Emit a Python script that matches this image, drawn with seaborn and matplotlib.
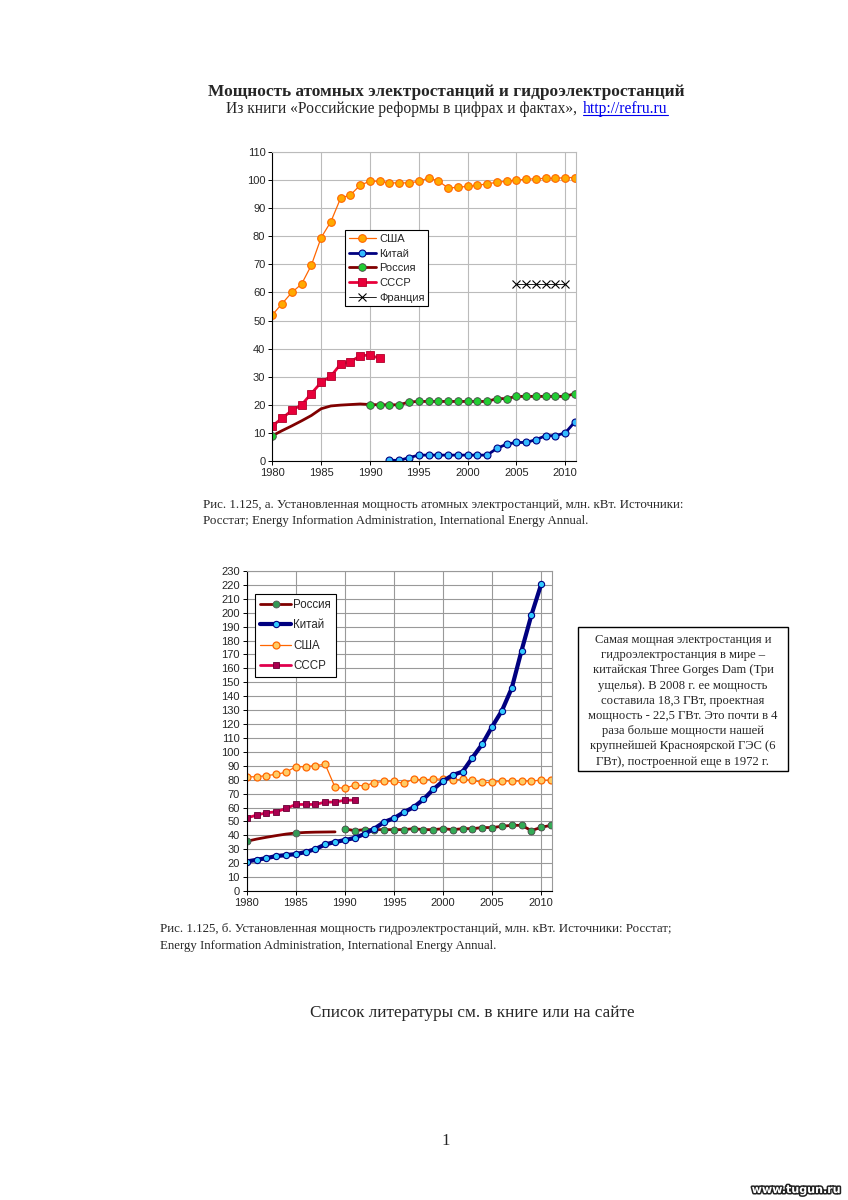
import matplotlib
matplotlib.use("Agg")
import matplotlib.pyplot as plt
import matplotlib.patheffects as pe
from matplotlib.patches import Rectangle
from matplotlib.lines import Line2D
import seaborn as sns

# ---- data: nuclear (top chart), GW
years = list(range(1980, 2012))
usa_nuc = [52, 56, 60, 63, 69.7, 79.5, 85.2, 93.6, 94.7, 98.2,
           99.6, 99.6, 99.0, 99.0, 99.0, 99.5, 100.8, 99.7, 97.2, 97.4,
           97.8, 98.1, 98.7, 99.2, 99.6, 100.0, 100.3, 100.5, 100.6, 100.6,
           100.9, 100.9]
ussr_years = list(range(1980, 1992))
ussr_nuc = [12.5, 15.2, 18.0, 20.0, 24.0, 28.0, 30.2, 34.5, 35.3, 37.5, 37.7, 36.5]
russia_nuc = [9.0, 10.8, 12.5, 14.3, 16.2, 18.6, 19.6, 19.9, 20.1, 20.3,
              20.1, 20.0, 20.0, 20.0, 21.0, 21.2, 21.2, 21.2, 21.2, 21.2,
              21.2, 21.2, 21.2, 22.2, 22.2, 23.0, 23.0, 23.0, 23.0, 23.0,
              23.0, 24.0]
russia_nuc_marked = [0] + list(range(10, 32))
china_nuc_years = list(range(1992, 2012))
china_nuc = [0.3, 0.2, 1.2, 2.1, 2.1, 2.1, 2.1, 2.1, 2.1, 2.1,
             2.1, 4.5, 6.0, 6.6, 6.6, 7.6, 9.0, 9.0, 10.0, 14.0]
france_years = [2005, 2006, 2007, 2008, 2009, 2010]
france_nuc = [63, 63, 63, 63, 63, 63]

# ---- data: hydro (bottom chart), GW
usa_hyd = [82.2, 82.0, 83.0, 83.8, 85.4, 89.3, 89.3, 90.2, 91.0, 74.5,
           73.8, 76.2, 75.5, 77.9, 78.8, 79.0, 77.3, 80.4, 79.9, 80.4,
           80.4, 79.7, 80.4, 79.5, 78.0, 78.0, 79.0, 79.0, 79.0, 79.0,
           79.7, 79.7]
ussr_hyd = [52.5, 54.5, 56.2, 56.9, 59.3, 62.2, 62.2, 62.2, 63.9, 63.9, 65.3, 65.3]
russia_early_years = list(range(1980, 1990))
russia_hyd_early = [35.7, 37.3, 38.6, 39.8, 40.9, 41.7, 42.1, 42.3, 42.4, 42.5]
russia_early_marked = [0, 5]
russia_years = list(range(1990, 2012))
russia_hyd = [44.6, 43.4, 44.1, 44.1, 44.1, 44.1, 44.1, 44.8, 44.1, 44.1,
              44.8, 44.1, 44.8, 44.8, 45.6, 45.6, 46.5, 47.2, 47.2, 43.4,
              45.8, 47.2]
china_hyd_years = list(range(1980, 2011))
china_hyd = [21.2, 22.4, 23.6, 25.1, 25.8, 26.5, 28.0, 30.1, 33.5, 35.2,
             36.6, 38.1, 41.0, 44.8, 49.6, 52.3, 56.6, 60.2, 65.8, 73.0,
             79.0, 83.4, 85.8, 95.9, 105.6, 118.1, 129.6, 145.8, 172.8, 198.3,
             220.5]

box_lines = ["Самая мощная электростанция и",
             "гидроэлектростанция в мире –",
             "китайская Three Gorges Dam (Три",
             "ущелья). В 2008 г. ее мощность",
             "составила 18,3 ГВт, проектная",
             "мощность - 22,5 ГВт. Это почти в 4",
             "раза больше мощности нашей",
             "крупнейшей Красноярской ГЭС (6",
             "ГВт), построенной еще в 1972 г."]

sns.set_theme(style="white")
plt.rcParams["font.family"] = ["Liberation Sans", "DejaVu Sans"]

W, H = 848, 1200
fig = plt.figure(figsize=(W / 100, H / 100), dpi=100)
fig.patch.set_facecolor("white")


def axes_px(l, t, r, b):
    return fig.add_axes([l / W, 1 - b / H, (r - l) / W, (b - t) / H])


def style_axes(ax, ymax, ystep, gridc, fs):
    ax.set_xlim(1980, 2011.1)
    ax.set_ylim(0, ymax)
    ax.set_xticks(range(1980, 2011, 5))
    ax.set_yticks(range(0, ymax + 1, ystep))
    ax.grid(True, color=gridc, linewidth=0.8)
    ax.set_axisbelow(True)
    for s in ["top", "right"]:
        ax.spines[s].set_color(gridc)
        ax.spines[s].set_linewidth(0.8)
    for s in ["left", "bottom"]:
        ax.spines[s].set_color("black")
        ax.spines[s].set_linewidth(0.8)
    ax.tick_params(axis="both", direction="out", length=3, width=0.7,
                   color="black", labelsize=fs, pad=2, left=True, bottom=True)
    ax.set_xlabel("")
    ax.set_ylabel("")


# ---------------- top chart: nuclear
ax1 = axes_px(272.3, 152, 576, 461)
sns.lineplot(x=years, y=usa_nuc, ax=ax1, color="#FF6600", linewidth=0.9,
             marker="o", markersize=5.5, markerfacecolor="#FFAA00",
             markeredgecolor="#FF6600", markeredgewidth=0.8, label="США")
sns.lineplot(x=china_nuc_years, y=china_nuc, ax=ax1, color="#000080", linewidth=2,
             marker="o", markersize=5, markerfacecolor="#33BBFF",
             markeredgecolor="#000080", markeredgewidth=0.8, label="Китай")
sns.lineplot(x=years, y=russia_nuc, ax=ax1, color="#800000", linewidth=2,
             marker="o", markersize=5.5, markerfacecolor="#22CC33",
             markeredgecolor="#444444", markeredgewidth=0.6,
             markevery=russia_nuc_marked, label="Россия")
sns.lineplot(x=ussr_years, y=ussr_nuc, ax=ax1, color="#E8003A", linewidth=2,
             marker="s", markersize=5.5, markerfacecolor="#E8003A",
             markeredgecolor="#B0002A", markeredgewidth=0.6, label="СССР")
sns.lineplot(x=france_years, y=france_nuc, ax=ax1, color="black", linewidth=0.6,
             marker="x", markersize=5.5, markeredgecolor="black",
             markeredgewidth=0.8, label="Франция")
style_axes(ax1, 110, 10, "#BBBBBB", 8)
leg1 = ax1.legend(loc="upper left", bbox_to_anchor=(345 / W, 1 - 230 / H),
                  bbox_transform=fig.transFigure, fontsize=8, frameon=True,
                  fancybox=False, edgecolor="black", framealpha=1,
                  borderpad=0.35, labelspacing=0.42, handlelength=2.4,
                  handletextpad=0.3, borderaxespad=0)
leg1.get_frame().set_linewidth(0.8)

# ---------------- bottom chart: hydro
ax2 = axes_px(246.7, 571, 552, 891)
sns.lineplot(x=russia_early_years, y=russia_hyd_early, ax=ax2, color="#800000",
             linewidth=2, marker="o", markersize=5, markerfacecolor="#339955",
             markeredgecolor="#555555", markeredgewidth=0.6,
             markevery=russia_early_marked, label="Россия")
sns.lineplot(x=russia_years, y=russia_hyd, ax=ax2, color="#800000",
             linewidth=2, marker="o", markersize=5, markerfacecolor="#33AA55",
             markeredgecolor="#444444", markeredgewidth=0.6)
sns.lineplot(x=years, y=usa_hyd, ax=ax2, color="#FF6600", linewidth=0.9,
             marker="o", markersize=5, markerfacecolor="#FFCC66",
             markeredgecolor="#FF6600", markeredgewidth=0.9, label="США")
sns.lineplot(x=ussr_years, y=ussr_hyd, ax=ax2, color="#E0004D", linewidth=2,
             marker="s", markersize=5, markerfacecolor="#AA0050",
             markeredgecolor="#660033", markeredgewidth=0.6, label="СССР")
sns.lineplot(x=china_hyd_years, y=china_hyd, ax=ax2, color="#000080", linewidth=3,
             marker="o", markersize=4.5, markerfacecolor="#33CCFF",
             markeredgecolor="#000080", markeredgewidth=0.8, label="Китай")
style_axes(ax2, 230, 10, "#999999", 8)
h, l = ax2.get_legend_handles_labels()
order = [l.index(n) for n in ["Россия", "Китай", "США", "СССР"]]
leg2 = ax2.legend([h[i] for i in order], [l[i] for i in order], loc="upper left",
                  bbox_to_anchor=(255 / W, 1 - 594 / H),
                  bbox_transform=fig.transFigure, fontsize=8.3, frameon=True,
                  fancybox=False, edgecolor="black", framealpha=1,
                  borderpad=0.45, labelspacing=0.72, handlelength=2.7,
                  handletextpad=0.15, borderaxespad=0)
leg2.get_frame().set_linewidth(0.8)

# ---------------- page text
serif = ["Liberation Serif", "DejaVu Serif"]


def ftext(x, y, s, **kw):
    kw.setdefault("family", serif)
    return fig.text(x / W, 1 - y / H, s, **kw)


ftext(446, 92, "Мощность атомных электростанций и гидроэлектростанций",
      ha="center", va="center", fontsize=12.4, fontweight="bold")
t_sub = ftext(581, 109, "Из книги «Российские реформы в цифрах и фактах», ",
              ha="right", va="center", fontsize=11.2)
t_link = ftext(583, 109, "http://refru.ru", ha="left", va="center",
               fontsize=11.2, color="#0000EE")

cap_fs = 9.3
ftext(203, 505, "Рис. 1.125, а. Установленная мощность атомных электростанций, млн. кВт. Источники:",
      ha="left", va="center", fontsize=cap_fs)
ftext(203, 521, "Росстат; Energy Information Administration, International Energy Annual.",
      ha="left", va="center", fontsize=cap_fs)
ftext(160, 929, "Рис. 1.125, б. Установленная мощность гидроэлектростанций, млн. кВт. Источники: Росстат;",
      ha="left", va="center", fontsize=cap_fs)
ftext(160, 946, "Energy Information Administration, International Energy Annual.",
      ha="left", va="center", fontsize=cap_fs)

fig.patches.append(Rectangle((578 / W, 1 - 771 / H), 210 / W, 144 / H,
                             transform=fig.transFigure, facecolor="white",
                             edgecolor="black", linewidth=1))
for i, line in enumerate(box_lines):
    ftext(683, 640 + i * 15.2, line, ha="center", va="center", fontsize=9.1)

ftext(472, 1013, "Список литературы см. в книге или на сайте",
      ha="center", va="center", fontsize=12.3)
ftext(446, 1141, "1", ha="center", va="center", fontsize=12)

fig.text(796 / W, 1 - 1190 / H, "www.tugun.ru", ha="center", va="center",
         fontsize=8, fontweight="bold", family="DejaVu Sans", color="white",
         path_effects=[pe.withStroke(linewidth=2.2, foreground="#222222")])

# underline the link
fig.canvas.draw()
bb = t_link.get_window_extent().transformed(fig.transFigure.inverted())
fig.add_artist(Line2D([bb.x0, bb.x1], [bb.y0 + 0.0015, bb.y0 + 0.0015],
                      transform=fig.transFigure, color="#0000EE", linewidth=0.8))

fig.savefig("out.png", dpi=100, facecolor="white")
